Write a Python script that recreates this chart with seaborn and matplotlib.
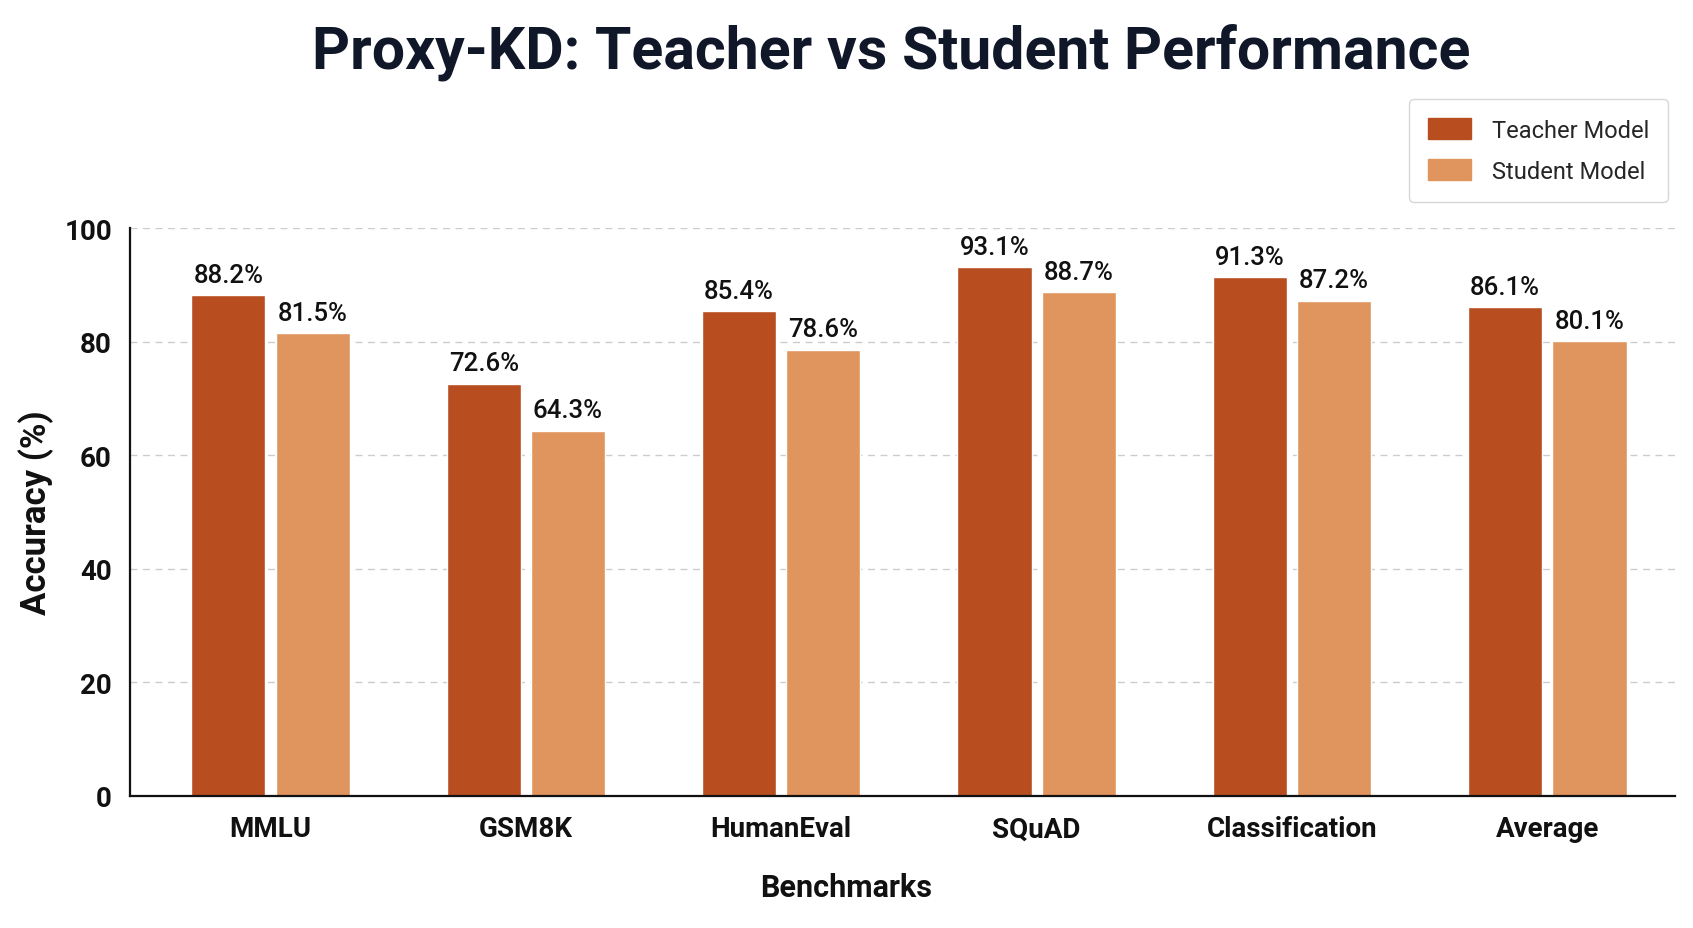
import matplotlib
matplotlib.use("Agg")
import matplotlib.pyplot as plt
import seaborn as sns
import pandas as pd
from matplotlib.patches import Patch

benchmarks = ["MMLU", "GSM8K", "HumanEval", "SQuAD", "Classification", "Average"]
teacher = [88.2, 72.6, 85.4, 93.1, 91.3, 86.1]
student = [81.5, 64.3, 78.6, 88.7, 87.2, 80.1]
models = ["Teacher Model", "Student Model"]
colors = ["#B84E20", "#E0955F"]

df = pd.DataFrame({
    "Benchmark": benchmarks * 2,
    "Model": [models[0]] * len(benchmarks) + [models[1]] * len(benchmarks),
    "Accuracy": teacher + student,
})

sns.set_theme(style="white")
plt.rcParams["font.family"] = ["Roboto", "DejaVu Sans"]

fig = plt.figure(figsize=(16.93, 9.29), dpi=100)
ax = fig.add_axes([130 / 1693, 1 - 797 / 929, (1675 - 130) / 1693, (797 - 229) / 929])

sns.barplot(data=df, x="Benchmark", y="Accuracy", hue="Model", palette=colors,
            width=0.66, gap=0.12, ax=ax, legend=False, saturation=1)

for cont in ax.containers:
    ax.bar_label(cont, fmt="%.1f%%", padding=6, fontsize=18.5, fontweight="medium", color="#111111")

ax.set_ylim(0, 100)
ax.set_xlim(-0.55, 5.5)
ax.set_yticks([0, 20, 40, 60, 80, 100])
ax.yaxis.grid(True, linestyle=(0, (5, 4)), color="#CCCCCC", linewidth=1)
ax.set_axisbelow(True)
for s in ["top", "right"]:
    ax.spines[s].set_visible(False)
for s in ["left", "bottom"]:
    ax.spines[s].set_color("#111111")
    ax.spines[s].set_linewidth(1.6)
ax.tick_params(axis="y", length=7, width=1.4, color="#111111", labelsize=20, pad=6)
ax.tick_params(axis="x", length=0, labelsize=20, pad=14)
for lbl in ax.get_xticklabels() + ax.get_yticklabels():
    lbl.set_fontweight("bold")
    lbl.set_color("#111111")

ax.set_xlabel("")
ax.set_ylabel("Accuracy (%)", fontsize=25, fontweight="bold", labelpad=7, color="#111111")
fig.text(0.5, 1 - 888 / 929, "Benchmarks", ha="center", va="center",
         fontsize=22, fontweight="bold", color="#111111")

fig.text(891 / 1693, 1 - 52 / 929, "Proxy-KD: Teacher vs Student Performance",
         ha="center", va="center", fontsize=42.5, fontweight="bold", color="#0F1729")

handles = [Patch(facecolor=c, edgecolor=c) for c in colors]
fig.legend(handles, models, loc="upper right", bbox_to_anchor=(1668 / 1693, 1 - 100 / 929),
           borderaxespad=0, fontsize=17, frameon=True, edgecolor="#CCCCCC", fancybox=True,
           handlelength=1.8, handleheight=1.0, borderpad=0.8, labelspacing=0.75, handletextpad=0.9)

fig.savefig("out.png", dpi=100, facecolor="white")
